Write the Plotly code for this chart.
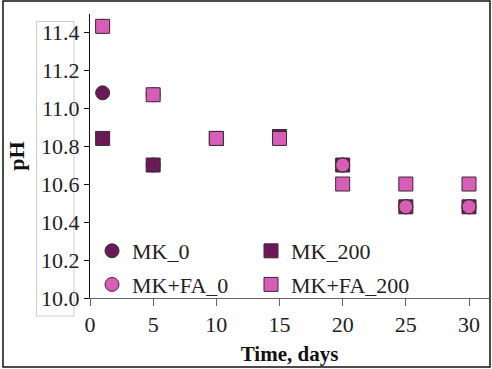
import plotly.graph_objects as go

days = [1, 5, 10, 15, 20, 25, 30]
mk_0 = [11.08, 10.70, 10.84, 10.85, 10.70, 10.48, 10.48]
mk_200 = [10.84, 10.70, 10.84, 10.85, 10.70, 10.48, 10.48]
mkfa_0 = [11.43, 11.07, 10.84, 10.84, 10.70, 10.48, 10.48]
mkfa_200 = [11.43, 11.07, 10.84, 10.84, 10.60, 10.60, 10.60]

DARK = "#6C1A57"
PINK = "#D85DB6"
EDGE = "#3a2a35"
FONT = "'Liberation Serif', 'Times New Roman', serif"

W, H = 492, 369
L, R, T, B = 90, 3, 14, 71
pw, ph = W - L - R, H - T - B

def px(x):
    return (x - L) / pw

def py(y):
    return (H - B - y) / ph

fig = go.Figure()
series = [
    ("MK_0", mk_0, "circle", DARK, "legend", "g1"),
    ("MK_200", mk_200, "square", DARK, "legend2", "g2"),
    ("MK+FA_0", mkfa_0, "circle", PINK, "legend", "g3"),
    ("MK+FA_200", mkfa_200, "square", PINK, "legend2", "g4"),
]
for name, vals, sym, col, leg, grp in series:
    fig.add_trace(go.Scatter(
        x=days, y=vals, mode="markers", name=name, legend=leg, legendgroup=grp,
        marker=dict(symbol=sym, size=14, color=col, line=dict(color=EDGE, width=1)),
    ))

axis_common = dict(showgrid=False, zeroline=False, ticks="outside", showline=True,
                   tickfont=dict(family=FONT, size=22, color="#222"))

fig.update_xaxes(range=[0, pw / (379 / 30)], tickvals=[0, 5, 10, 15, 20, 25, 30],
                 linecolor="#666", tickcolor="#666", ticklen=7,
                 title=dict(text="<b>Time, days</b>\u00a0\u00a0\u00a0", font=dict(family=FONT, size=21, color="#111"), standoff=9),
                 **axis_common)
fig.update_yaxes(range=[10.0, 11.495], dtick=0.2, tick0=10.0, tickformat=".1f",
                 linecolor="#111", tickcolor="#111", ticklen=5,
                 title=dict(text="<b>pH</b>", font=dict(family=FONT, size=22, color="#111"), standoff=10),
                 **axis_common)

leg_common = dict(font=dict(family=FONT, size=22, color="#222"), bgcolor="rgba(0,0,0,0)",
                  orientation="v", xanchor="left", yanchor="top", tracegroupgap=2)
fig.update_layout(
    width=W, height=H, margin=dict(l=L, r=R, t=T, b=B),
    paper_bgcolor="white", plot_bgcolor="white",
    legend=dict(x=px(92), y=py(230), **leg_common),
    legend2=dict(x=px(251), y=py(230), **leg_common),
    showlegend=True,
    shapes=[
        dict(type="rect", xref="paper", yref="paper", x0=px(3), x1=px(490), y0=py(367), y1=py(1),
             line=dict(color="#111", width=1.5), layer="below"),
        dict(type="rect", xref="paper", yref="paper", x0=px(36.5), x1=px(74), y0=py(316), y1=py(21.5),
             line=dict(color="#cccccc", width=1), layer="below"),
    ],
)

fig.write_html("out.html")
